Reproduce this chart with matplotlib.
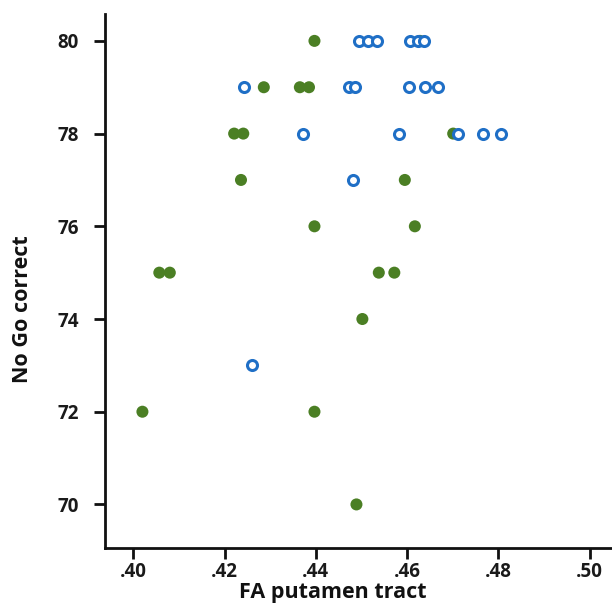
import matplotlib
matplotlib.use("Agg")
import matplotlib.pyplot as plt

# Group 1: filled green dots (FA, No Go correct)
green_fa = [0.4397, 0.4628,
            0.4286, 0.4365, 0.4385,
            0.4221, 0.4241, 0.4701,
            0.4236, 0.4595,
            0.4397, 0.4617,
            0.4057, 0.4080, 0.4538, 0.4572,
            0.4502,
            0.4020, 0.4397,
            0.4489]
green_nogo = [80, 80,
              79, 79, 79,
              78, 78, 78,
              77, 77,
              76, 76,
              75, 75, 75, 75,
              74,
              72, 72,
              70]

# Group 2: open blue circles
blue_fa = [0.4495, 0.4514, 0.4533, 0.4606, 0.4623, 0.4637,
           0.4243, 0.4473, 0.4486, 0.4605, 0.4639, 0.4667,
           0.4372, 0.4583, 0.4712, 0.4766, 0.4806,
           0.4481,
           0.4260]
blue_nogo = [80, 80, 80, 80, 80, 80,
             79, 79, 79, 79, 79, 79,
             78, 78, 78, 78, 78,
             77,
             73]

x_ticks = [0.40, 0.42, 0.44, 0.46, 0.48, 0.50]
x_ticklabels = [".40", ".42", ".44", ".46", ".48", ".50"]
y_ticks = [70, 72, 74, 76, 78, 80]

plt.rcParams['font.family'] = ['Open Sans', 'DejaVu Sans']

fig = plt.figure(figsize=(6.12, 6.05), dpi=100)
ax = fig.add_axes([105/612, 57/605, 507/612, 534/605])

ax.scatter(green_fa, green_nogo, s=75, color='#4b7f24', edgecolors='none', zorder=2)
ax.scatter(blue_fa, blue_nogo, s=52, facecolors='white', edgecolors='#1f6fc6',
           linewidths=2.2, zorder=3)

ax.set_xlim(0.3938, 0.5049)
ax.set_ylim(69.06, 80.58)
ax.set_xticks(x_ticks)
ax.set_xticklabels(x_ticklabels)
ax.set_yticks(y_ticks)

for s in ['top', 'right']:
    ax.spines[s].set_visible(False)
for s in ['left', 'bottom']:
    ax.spines[s].set_linewidth(2)
    ax.spines[s].set_color('#111111')

ax.tick_params(axis='both', length=8, width=2, color='#111111',
               labelsize=13.5, labelcolor='#1a1a1a')
ax.tick_params(axis='y', pad=11)
ax.tick_params(axis='x', pad=2)
for lab in ax.get_xticklabels() + ax.get_yticklabels():
    lab.set_fontweight('bold')

ax.set_xlabel("FA putamen tract", fontsize=15.5, fontweight='bold', color='#111111')
ax.set_ylabel("No Go correct", fontsize=15.5, fontweight='bold', color='#111111')
ax.xaxis.set_label_coords(0.45, -0.064)
ax.yaxis.set_label_coords(-0.142, 0.448)

fig.savefig("out.png", dpi=100)
